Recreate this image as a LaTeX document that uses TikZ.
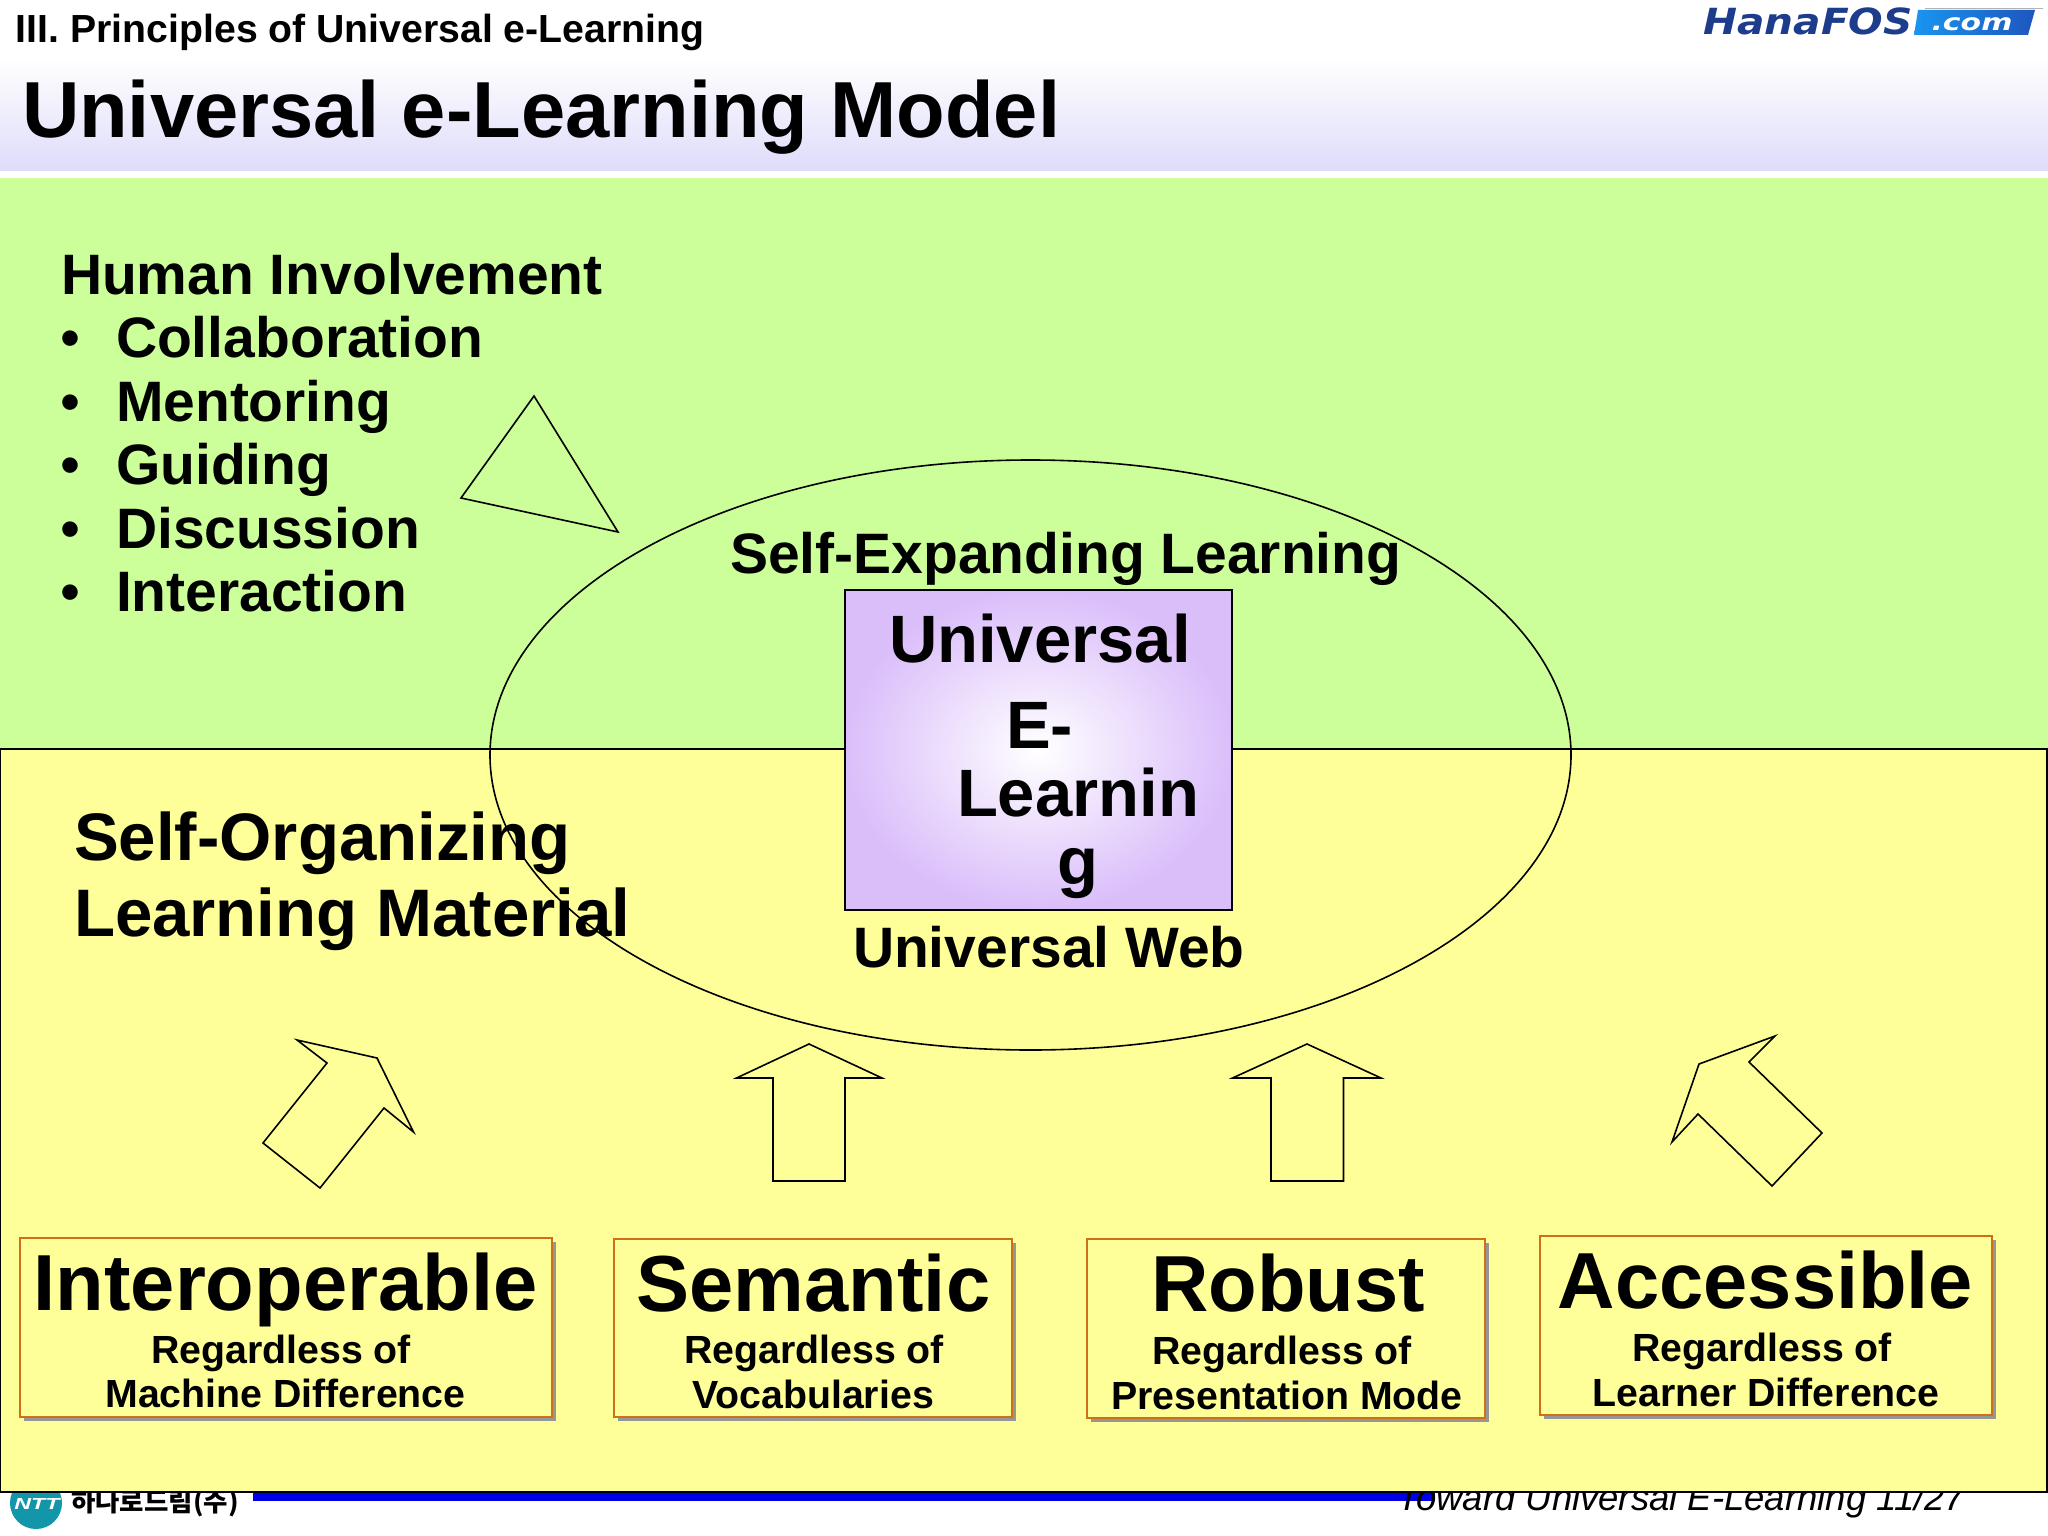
\documentclass[tikz,border=0pt]{standalone}
\usepackage{fontspec}
\setmainfont{Liberation Sans}
\newfontfamily\krfont{Noto Sans CJK KR}
\newfontfamily\logofont{DejaVu Sans}
\usetikzlibrary{shadings}
\definecolor{panelgreen}{RGB}{204,255,153}
\definecolor{panelyellow}{RGB}{255,255,153}
\definecolor{headlav}{RGB}{222,220,250}
\definecolor{boxorange}{RGB}{205,112,25}
\definecolor{boxshadow}{RGB}{150,150,150}
\definecolor{purpleedge}{RGB}{218,190,250}
\definecolor{navylogo}{RGB}{30,60,140}
\definecolor{skylogo}{RGB}{25,150,240}
\definecolor{deeplogo}{RGB}{30,85,190}
\definecolor{teallogo}{RGB}{20,150,170}
\definecolor{barblue}{RGB}{0,0,230}
\newcommand{\fs}[1]{\fontsize{#1}{#1}\selectfont}
\tikzset{
  lbl/.style={anchor=base west,inner sep=0pt,outer sep=0pt,font=\bfseries\fs{#1}},
  ctr/.style={anchor=base,inner sep=0pt,outer sep=0pt,font=\bfseries\fs{#1}},
  outline/.style={draw=black,line width=1.6pt,line join=miter,fill=none},
  attrbox/.style={draw=boxorange,line width=2.2pt,fill=panelyellow},
  attrshadow/.style={fill=boxshadow,draw=none}
}
\begin{document}
\begin{tikzpicture}[x=1pt,y=-1pt]
\useasboundingbox (0,0) rectangle (2048,1536);
\fill[white] (0,0) rectangle (2048,1536);
% header band
\shade[top color=white,bottom color=headlav,draw=none] (0,58) rectangle (2048,170);
% footer (panel covers the top of it)
\fill[barblue] (253,1490) rectangle (1435,1501);
\fill[teallogo] (36,1503) circle (26);
\node[anchor=base,inner sep=0pt,font=\bfseries\itshape\fs{16},text=white,xscale=1.45] (ntt) at (37,1509) {NTT};
\node[anchor=base west,inner sep=0pt,font=\krfont\bfseries\fs{26.5}] (korean) at (71,1511) {하나로드림(주)};
\node[anchor=base west,inner sep=0pt,font=\itshape\fs{36.5}] (footer) at (1397,1510) {Toward Universal E-Learning 11/27};
% panels
\fill[panelgreen] (0,178) rectangle (2048,749);
\path[fill=panelyellow,draw=black,line width=2pt] (0,749) rectangle (2047,1492);
% titles
\node[lbl=39.2] (sub) at (16,43) {III. Principles of Universal e-Learning};
\node[lbl=79.5] (title) at (22,138) {Universal e-Learning Model};
% logo
\node[anchor=base west,inner sep=0pt,font=\logofont\bfseries\itshape\fs{36},text=navylogo,xscale=1.13] (hana) at (1703,35) {HanaFOS};
\fill[black!30] (1925,8) rectangle (2043,9.5);
\shade[left color=skylogo,right color=deeplogo,draw=none] (1918,10) -- (2035,10) -- (2028,35) -- (1914,35) -- cycle;
\node[anchor=base,inner sep=0pt,font=\logofont\bfseries\itshape\fs{23},text=white,xscale=1.3] (dotcom) at (1972,31) {.com};
% human involvement list
\node[lbl=57] (hi) at (61,294) {Human Involvement};
\foreach \nm/\tx/\yy in {collab/Collaboration/357.5,mentor/Mentoring/421,guide/Guiding/484.5,discuss/Discussion/548,interact/Interaction/611.5}{
  \node[lbl=57] (b\nm) at (60,\yy) {\fontseries{m}\selectfont •};
  \node[lbl=57] (\nm) at (116,\yy) {\tx};
}
% triangle, ellipse
\draw[outline] (534,396) -- (461,498) -- (618,532) -- cycle;
\draw[outline] (1030.5,755) ellipse (540.5 and 295);
\node[lbl=57] (expand) at (730,573.5) {Self-Expanding Learning};
% central box
\path[draw=black,line width=2pt,inner color=white,outer color=purpleedge] (845,590) rectangle (1232,910);
\node[lbl=67] (u1) at (889,662) {Universal};
\node[lbl=67] (u2) at (1006,748) {E-};
\node[lbl=67] (u3) at (957,816) {Learnin};
\node[lbl=67] (u4) at (1057,884) {g};
\node[lbl=57] (web) at (853,967.5) {Universal Web};
% self-organizing
\node[lbl=67.2] (so1) at (74,860) {Self-Organizing};
\node[lbl=67.2] (so2) at (74,936) {Learning Material};
% arrows
\draw[outline] (297,1040) -- (377,1058) -- (413.5,1132) -- (384,1108) -- (320,1188) -- (263,1143) -- (327,1063) -- cycle;
\draw[outline] (809,1044) -- (882,1078) -- (845,1078) -- (845,1181) -- (773,1181) -- (773,1078) -- (736.5,1078) -- cycle;
\draw[outline] (1307,1044) -- (1381,1078) -- (1343.5,1078) -- (1343.5,1181) -- (1271,1181) -- (1271,1078) -- (1232.5,1078) -- cycle;
\draw[outline] (1775,1036) -- (1699,1064) -- (1672,1142) -- (1698,1114) -- (1772,1186) -- (1822,1133) -- (1749,1062) -- cycle;
% attribute boxes
\foreach \xa/\ya/\xb/\yb in {20/1238/552/1417,614/1239/1012/1417,1087/1239/1485/1418,1540/1236/1992/1415}{
  \fill[attrshadow] (\xa+4,\ya+4) rectangle (\xb+4,\yb+4);
  \path[attrbox] (\xa,\ya) rectangle (\xb,\yb);
}
\node[ctr=79.5] (a1) at (285.5,1310) {Interoperable};
\node[ctr=39.3] (a1b) at (281,1363) {Regardless of};
\node[ctr=39.3] (a1c) at (285.5,1407.5) {Machine Difference};
\node[ctr=79.5] (a2) at (813.5,1311) {Semantic};
\node[ctr=39.3] (a2b) at (814,1363.5) {Regardless of};
\node[ctr=39.3] (a2c) at (813,1408) {Vocabularies};
\node[ctr=79.5] (a3) at (1288,1311) {Robust};
\node[ctr=39.3] (a3b) at (1282,1364.5) {Regardless of};
\node[ctr=39.3] (a3c) at (1287,1409) {Presentation Mode};
\node[ctr=79.5] (a4) at (1765.5,1308) {Accessible};
\node[ctr=39.3] (a4b) at (1762,1361.5) {Regardless of};
\node[ctr=39.3] (a4c) at (1766,1406.5) {Learner Difference};
\end{tikzpicture}
\end{document}
